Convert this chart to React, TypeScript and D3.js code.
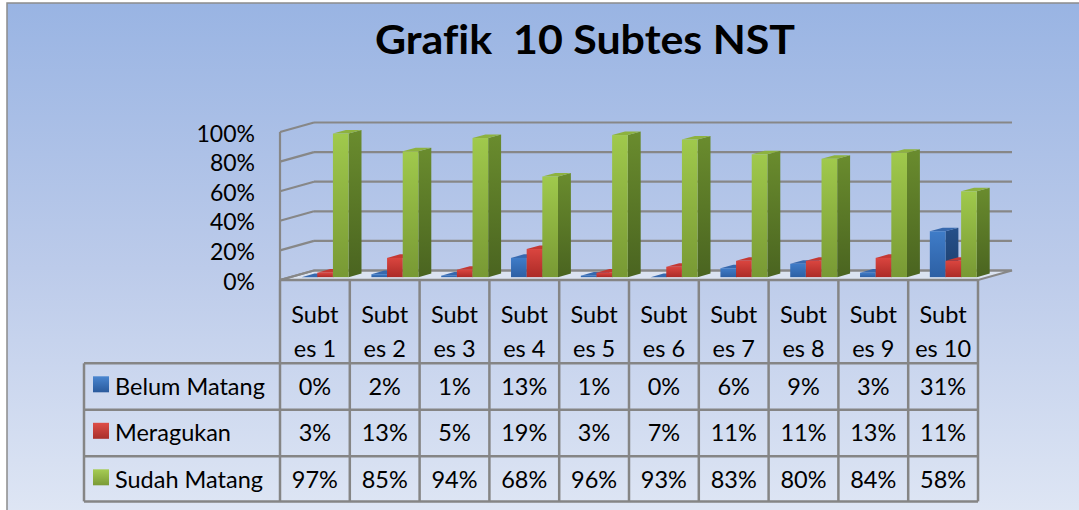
import React from 'react'
import * as d3 from 'd3'

const categories = ['Subtes 1', 'Subtes 2', 'Subtes 3', 'Subtes 4', 'Subtes 5', 'Subtes 6', 'Subtes 7', 'Subtes 8', 'Subtes 9', 'Subtes 10']
const seriesNames = ['Belum Matang', 'Meragukan', 'Sudah Matang']
const belumMatang = [0, 2, 1, 13, 1, 0, 6, 9, 3, 31]
const meragukan = [3, 13, 5, 19, 3, 7, 11, 11, 13, 11]
const sudahMatang = [97, 85, 94, 68, 96, 93, 83, 80, 84, 58]
const yTicks = [0, 20, 40, 60, 80, 100]

const seriesValues = [belumMatang, meragukan, sudahMatang]

const palette = [
  { front: ['#3f7cc8', '#2d60a4'], side: ['#26508a', '#1d3f6c'], top: '#3769ae', key: ['#4a86d0', '#2a5a9c'] },
  { front: ['#da453f', '#ac2b27'], side: ['#a32c27', '#7c1f1c'], top: '#c43833', key: ['#de4d47', '#a8302b'] },
  { front: ['#a0c94c', '#789934'], side: ['#6a8c2e', '#4a6420'], top: '#8db23f', key: ['#a6cc55', '#7a9a36'] }
]

const W = 1079
const H = 510
const FONT = 'Lato, "Open Sans", sans-serif'
const noLig = { fontVariantLigatures: 'none', whiteSpace: 'pre' } as React.CSSProperties

// oblique 3d: depth goes right and up
const DX = 34
const DY = 9.5
const bar = { z0: 0.3, z1: 0.68 }

const plot = { left: 280, right: 978, bottom: 280, top: 132 }
const rowLines = [363.3, 409.8, 456.3, 501.4]
const legendLeft = 84

export default function App() {
  const x = d3.scaleBand().domain(categories).range([plot.left, plot.right]).padding(0)
  const xs = d3.scaleBand().domain(seriesNames).range([0, x.bandwidth()]).paddingInner(0).paddingOuter(0.73)
  const y = d3.scaleLinear().domain([0, 100]).range([plot.bottom, plot.top])

  const proj = (px, v, z) => [px + z * DX, y(v) - z * DY]
  const pts = (arr) => arr.map(p => p.join(',')).join(' ')

  const bars = []
  categories.forEach((c, i) => {
    seriesNames.forEach((s, si) => {
      const v = seriesValues[si][i]
      const x0 = x(c) + xs(s)
      const x1 = x0 + xs.bandwidth()
      const { z0, z1 } = bar
      const side = [proj(x1, v, z0), proj(x1, v, z1), proj(x1, 0, z1), proj(x1, 0, z0)]
      const top = [proj(x0, v, z0), proj(x1, v, z0), proj(x1, v, z1), proj(x0, v, z1)]
      const f0 = proj(x0, v, z0)
      const f1 = proj(x1, 0, z0)
      bars.push(
        <g key={c + s}>
          <polygon points={pts(side)} fill={`url(#side${si})`} />
          <polygon points={pts(top)} fill={palette[si].top} />
          <rect x={f0[0]} y={f0[1]} width={f1[0] - f0[0]} height={Math.max(0, f1[1] - f0[1])} fill={`url(#front${si})`} />
        </g>
      )
    })
  })

  const floor = [proj(plot.left, 0, 0), proj(plot.right, 0, 0), proj(plot.right, 0, 1), proj(plot.left, 0, 1)]
  const grid = '#878787'
  const tableLine = '#858585'
  const fs = 23.5

  return (
    <div style={{ position: 'absolute', left: 0, top: 0 }}>
      <svg width={W} height={H} style={{ display: 'block' }}>
        <defs>
          <linearGradient id="bg" x1="0" y1="0" x2="0" y2="1">
            <stop offset="0" stopColor="#99b4e3" />
            <stop offset="0.5" stopColor="#bccbea" />
            <stop offset="1" stopColor="#e1e8f5" />
          </linearGradient>
          {palette.map((p, i) => (
            <React.Fragment key={i}>
              <linearGradient id={`front${i}`} x1="0" y1="0" x2="0" y2="1">
                <stop offset="0" stopColor={p.front[0]} />
                <stop offset="1" stopColor={p.front[1]} />
              </linearGradient>
              <linearGradient id={`side${i}`} x1="0" y1="0" x2="0" y2="1">
                <stop offset="0" stopColor={p.side[0]} />
                <stop offset="1" stopColor={p.side[1]} />
              </linearGradient>
              <linearGradient id={`key${i}`} x1="0" y1="0" x2="0" y2="1">
                <stop offset="0" stopColor={p.key[0]} />
                <stop offset="1" stopColor={p.key[1]} />
              </linearGradient>
            </React.Fragment>
          ))}
        </defs>

        <rect x={0} y={0} width={W} height={H} fill="#fff" />
        <rect x={7} y={3} width={W + 20} height={H + 20} fill="url(#bg)" stroke="#8c8c8c" strokeWidth={1.5} />

        <text x={375} y={53.5} textLength={420} lengthAdjust="spacingAndGlyphs" fontFamily={FONT} fontWeight="bold" fontSize={41} fill="#000" style={noLig}>
          Grafik  10 Subtes NST
        </text>

        {/* floor */}
        <polygon points={pts(floor)} fill="#dbe3f1" stroke={grid} strokeWidth={2} />

        {/* gridlines on left wall and back wall */}
        {yTicks.map(t => {
          const a = proj(plot.left, t, 0)
          const b = proj(plot.left, t, 1)
          const c = proj(plot.right, t, 1)
          return (
            <g key={t}>
              <line x1={a[0]} y1={a[1]} x2={b[0]} y2={b[1]} stroke={grid} strokeWidth={2.2} />
              <line x1={b[0]} y1={b[1]} x2={c[0]} y2={c[1]} stroke={grid} strokeWidth={2.2} />
              <text x={255} y={y(t) + 9.5} textAnchor="end" fontFamily={FONT} fontSize={23} fill="#000">
                {d3.format('.0%')(t / 100)}
              </text>
            </g>
          )
        })}
        <line x1={plot.left} y1={y(0)} x2={plot.left} y2={y(100)} stroke={grid} strokeWidth={2.2} />

        {bars}

        {/* data table */}
        <g>
          {categories.map((c, i) => (
            <g key={c}>
              <text x={x(c) + x.bandwidth() / 2} y={323} textAnchor="middle" fontFamily={FONT} fontSize={fs}>{c.slice(0, 4)}</text>
              <text x={x(c) + x.bandwidth() / 2} y={356.5} textAnchor="middle" fontFamily={FONT} fontSize={fs}>{c.slice(4).trim()}</text>
              {seriesNames.map((s, si) => (
                <text key={s} x={x(c) + x.bandwidth() / 2} y={rowLines[si] + 31.5} textAnchor="middle" fontFamily={FONT} fontSize={fs}>
                  {seriesValues[si][i] + '%'}
                </text>
              ))}
            </g>
          ))}
          {seriesNames.map((s, si) => (
            <g key={s}>
              <rect x={93} y={rowLines[si] + 13} width={16} height={16} fill={`url(#key${si})`} />
              <text x={115} y={rowLines[si] + 31.5} fontFamily={FONT} fontSize={fs}>{s}</text>
            </g>
          ))}
          {x.domain().map(c => (
            <line key={c} x1={x(c)} y1={plot.bottom} x2={x(c)} y2={rowLines[3]} stroke={tableLine} strokeWidth={2.5} />
          ))}
          <line x1={plot.right} y1={plot.bottom} x2={plot.right} y2={rowLines[3]} stroke={tableLine} strokeWidth={2.5} />
          <line x1={legendLeft} y1={rowLines[0]} x2={legendLeft} y2={rowLines[3]} stroke={tableLine} strokeWidth={2.5} />
          {rowLines.map(r => (
            <line key={r} x1={legendLeft} y1={r} x2={plot.right} y2={r} stroke={tableLine} strokeWidth={2.5} />
          ))}
          <line x1={plot.left} y1={plot.bottom} x2={plot.right} y2={plot.bottom} stroke={tableLine} strokeWidth={2.5} />
        </g>
      </svg>
    </div>
  )
}
